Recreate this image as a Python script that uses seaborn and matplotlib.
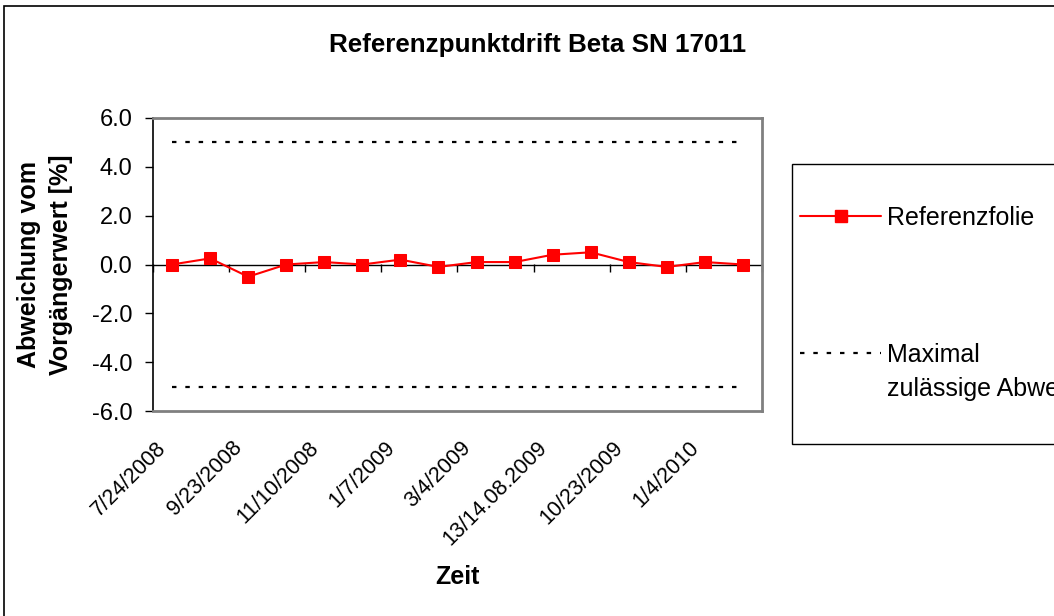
import numpy as np
import pandas as pd
import matplotlib
matplotlib.use("Agg")
import matplotlib.pyplot as plt
import matplotlib.transforms as mtransforms
from matplotlib.lines import Line2D
from matplotlib.patches import Rectangle
from matplotlib.ticker import FuncFormatter
import seaborn as sns

# ---------------- data ----------------
title = "Referenzpunktdrift Beta SN 17011"
y_label = "Abweichung vom\nVorgängerwert [%]"
x_label = "Zeit"
series_name = "Referenzfolie"
limit_name = "Maximal\nzulässige Abweichung"

tick_labels = ["7/24/2008", "9/23/2008", "11/10/2008", "1/7/2009",
               "3/4/2009", "13/14.08.2009", "10/23/2009", "1/4/2010"]
drift = [0.0, 0.25, -0.5, 0.0, 0.1, 0.0, 0.2, -0.1,
         0.1, 0.1, 0.4, 0.5, 0.1, -0.1, 0.1, 0.0]
limit_upper = [5.0, 5.0, 5.0, 5.0, 5.0, 5.0, 5.0, 5.0,
               5.0, 5.0, 5.0, 5.0, 5.0, 5.0, 5.0, 5.0]
limit_lower = [-5.0, -5.0, -5.0, -5.0, -5.0, -5.0, -5.0, -5.0,
               -5.0, -5.0, -5.0, -5.0, -5.0, -5.0, -5.0, -5.0]
y_ticks = [-6.0, -4.0, -2.0, 0.0, 2.0, 4.0, 6.0]

# ---------------- style ----------------
sns.set_theme(style="white")
plt.rcParams["font.family"] = ["Liberation Sans", "DejaVu Sans"]

RED = "#FF0000"
GRAY = "#808080"
DOT = (0, (2, 4))

W, H = 1054, 616
fig = plt.figure(figsize=(W / 100, H / 100), dpi=100)
fig.patch.set_facecolor("white")
ax = fig.add_axes([153 / W, 205 / H, 609 / W, 293 / H])
ax.set_facecolor("white")

n = len(drift)
df = pd.DataFrame({"pos": np.arange(n), "drift": drift,
                   "upper": limit_upper, "lower": limit_lower})

ax.axhline(0, color="black", lw=1.0, zorder=1)
sns.lineplot(data=df, x="pos", y="upper", ax=ax, color="black", lw=1.6,
             linestyle=DOT, zorder=2)
sns.lineplot(data=df, x="pos", y="lower", ax=ax, color="black", lw=1.6,
             linestyle=DOT, zorder=2)
sns.lineplot(data=df, x="pos", y="drift", ax=ax, color=RED, lw=1.5,
             marker="s", markersize=8.5, markeredgecolor=RED,
             markerfacecolor=RED, zorder=3)

ax.set_xlim(-0.5, n - 0.5)
ax.set_ylim(y_ticks[0], y_ticks[-1])

# y axis
ax.set_yticks(y_ticks)
ax.yaxis.set_major_formatter(FuncFormatter(lambda v, p: f"{v:.1f}"))
ax.tick_params(axis="y", left=True, direction="out", length=6, width=1,
               color="black", pad=9, labelsize=17, labelcolor="black")

# x axis labels (every second category)
ax.set_xticks(np.arange(0, n, 2))
ax.set_xticklabels(tick_labels, rotation=45, ha="right", va="top")
ax.tick_params(axis="x", bottom=False, length=0, pad=19, labelsize=15.5,
               labelcolor="black")
offset = mtransforms.ScaledTranslation(-1 / 72, 0, fig.dpi_scale_trans)
for lbl in ax.get_xticklabels():
    lbl.set_transform(lbl.get_transform() + offset)

# category-boundary ticks on the zero line
sec = ax.secondary_xaxis(0, transform=ax.transData)
sec.set_xticks(np.arange(-0.5, n, 2))
sec.set_xticklabels([])
sec.tick_params(axis="x", bottom=True, direction="out", length=6, width=1,
                color="black")
for s in sec.spines.values():
    s.set_visible(False)

# spines
ax.spines["left"].set_color("black")
ax.spines["left"].set_linewidth(1.2)
for side in ["top", "right", "bottom"]:
    ax.spines[side].set_color(GRAY)
    ax.spines[side].set_linewidth(2)

# labels
ax.set_ylabel(y_label, fontsize=18, fontweight="bold", va="center",
              linespacing=1.4, color="black")
ax.yaxis.set_label_coords((45 - 153) / 609, 0.5)
ax.set_xlabel(x_label, fontsize=18, fontweight="bold", va="center",
              color="black")
ax.xaxis.set_label_coords(0.5, (411 - 577) / 293)

fig.text(538 / W, 1 - 45 / H, title, fontsize=18.7, fontweight="bold",
         ha="center", va="center", color="black")

# legend
blank = Line2D([], [], linestyle="none")
h_series = Line2D([], [], color=RED, lw=1.5, marker="s", markersize=8.5,
                  markeredgecolor=RED, markerfacecolor=RED)
h_limit = Line2D([], [], color="black", lw=1.6, linestyle=DOT)
lim1, lim2 = limit_name.split("\n")
handles = [blank, h_series, blank, blank, blank, h_limit, blank, blank]
labels = [" ", series_name, " ", " ", " ", lim1, lim2, " "]
leg = ax.legend(handles, labels, loc="upper left",
                bbox_to_anchor=(792 / W, 1 - 164 / H),
                bbox_transform=fig.transFigure, borderaxespad=0,
                fontsize=18, frameon=True, fancybox=False,
                edgecolor="black", framealpha=1, borderpad=0.32,
                handlelength=3.25, handletextpad=0.24, labelspacing=0.41)
leg.get_frame().set_linewidth(1.0)
for t in leg.get_texts():
    t.set_color("black")

# outer chart border
fig.add_artist(Rectangle((4 / W, -0.5), 2.0, 0.5 + 1 - 6 / H,
                         transform=fig.transFigure, fill=False,
                         edgecolor="black", lw=1.2))

fig.savefig("out.png", dpi=100)
